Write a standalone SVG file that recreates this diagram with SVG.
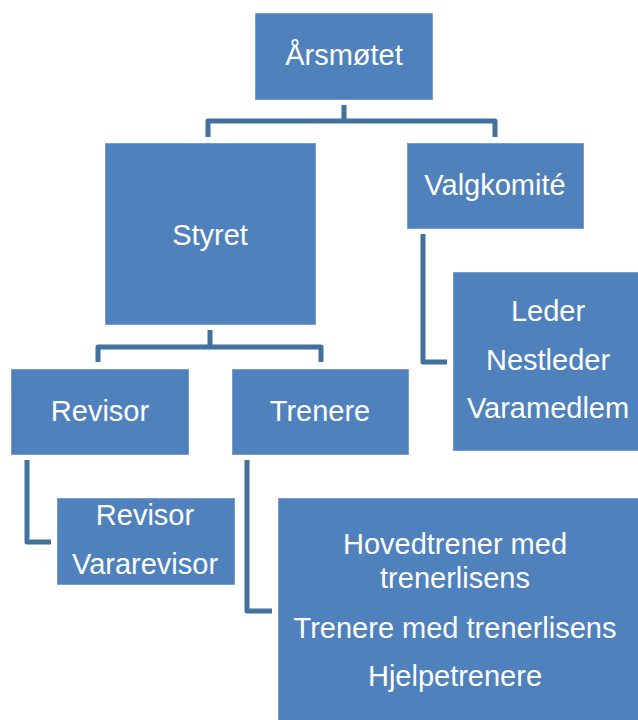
<svg xmlns="http://www.w3.org/2000/svg" width="638" height="720" viewBox="0 0 638 720">
<style>
.box{fill:#4F81BD;stroke:#7A9CCB;stroke-width:1}
.t{fill:#FFFFFF;font-family:"Liberation Sans",Arial,sans-serif;font-size:29px;text-anchor:middle}
.c{fill:none;stroke:#41719C;stroke-width:5;stroke-linejoin:round}
</style>
<rect width="638" height="720" fill="#FFFFFF"/>
<g id="connectors">
<path class="c" d="M344,105 V121 M208,137 V121 H495 V137"/>
<path class="c" d="M210,330 V347 M98,362 V347 H321 V362"/>
<path class="c" d="M423,234 V362 H447"/>
<path class="c" d="M27,460 V542 H51"/>
<path class="c" d="M247,460 V611 H272"/>
</g>
<g id="arsmotet"><rect class="box" x="255.5" y="13.5" width="177" height="86"/><text class="t" x="344" y="65">Årsmøtet</text></g>
<g id="styret"><rect class="box" x="105.5" y="143.5" width="210" height="181"/><text class="t" x="210" y="245">Styret</text></g>
<g id="valgkomite"><rect class="box" x="407.5" y="143.5" width="176" height="85"/><text class="t" x="495" y="195">Valgkomité</text></g>
<g id="valgkomite-members"><rect class="box" x="453.5" y="272.5" width="190" height="178"/><text class="t" x="548" y="321">Leder</text><text class="t" x="548" y="370">Nestleder</text><text class="t" x="548" y="418">Varamedlem</text></g>
<g id="revisor"><rect class="box" x="11.5" y="369.5" width="177" height="85"/><text class="t" x="100" y="421">Revisor</text></g>
<g id="trenere"><rect class="box" x="232.5" y="369.5" width="176" height="85"/><text class="t" x="320" y="421">Trenere</text></g>
<g id="revisor-members"><rect class="box" x="57.5" y="498.5" width="177" height="86"/><text class="t" x="145" y="525">Revisor</text><text class="t" x="145" y="574">Vararevisor</text></g>
<g id="trenere-members"><rect class="box" x="278.5" y="498.5" width="370" height="230"/><text class="t" x="455" y="554">Hovedtrener med</text><text class="t" x="455" y="588">trenerlisens</text><text class="t" x="455" y="638">Trenere med trenerlisens</text><text class="t" x="455" y="686">Hjelpetrenere</text></g>
</svg>
